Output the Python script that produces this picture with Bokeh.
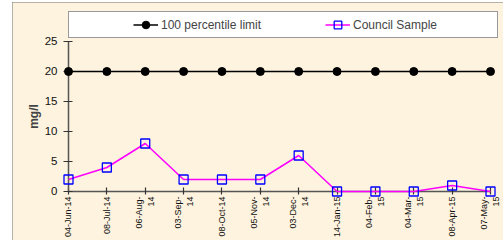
import math
from bokeh.plotting import figure
from bokeh.models import Range1d, FixedTicker, LinearAxis, Legend, LegendItem, Spacer
from bokeh.layouts import row, column
from bokeh.embed import file_html
from bokeh.resources import INLINE

dates = ["04-Jun-14", "08-Jul-14", "06-Aug-\n14", "03-Sep-\n14", "08-Oct-14",
         "05-Nov-\n14", "03-Dec-\n14", "14-Jan-15", "04-Feb-\n15", "04-Mar-\n15",
         "08-Apr-15", "07-May-\n15"]
limit = [20, 20, 20, 20, 20, 20, 20, 20, 20, 20, 20, 20]
council = [2, 4, 8, 2, 2, 2, 6, 0, 0, 0, 1, 0]
y_ticks = [0, 5, 10, 15, 20, 25]

xs = list(range(len(dates)))
BG = "#FDF3DE"

p = figure(width=491, height=238, output_backend="svg", toolbar_location=None,
           x_range=Range1d(-1.4597, 11.3389), y_range=Range1d(-8.1667, 31.5),
           x_axis_type=None, y_axis_type=None,
           min_border_left=0, min_border_right=0, min_border_top=0, min_border_bottom=0,
           styles={"outline": "2px solid #707070", "outline-offset": "-2px"})
p.background_fill_color = BG
p.border_fill_color = BG
p.outline_line_color = None
p.xgrid.visible = False
p.ygrid.visible = False

xaxis = LinearAxis(fixed_location=0, bounds=(0, len(dates) - 1),
                   ticker=FixedTicker(ticks=xs),
                   major_label_overrides={i: d for i, d in enumerate(dates)},
                   major_label_orientation=math.pi / 2,
                   major_label_text_font="Liberation Sans",
                   major_label_text_font_size="9px",
                   major_label_text_color="#111111",
                   major_label_standoff=2,
                   major_tick_in=4, major_tick_out=3,
                   minor_tick_line_color=None,
                   axis_line_color="#555555", axis_line_width=1.5,
                   major_tick_line_color="#333333", major_tick_line_width=1.2,
                   level="underlay")
p.add_layout(xaxis, "below")

yaxis = LinearAxis(fixed_location=0, bounds=(0, 25),
                   ticker=FixedTicker(ticks=y_ticks),
                   major_label_text_font="Liberation Sans",
                   major_label_text_font_size="11.5px",
                   major_label_text_color="#111111",
                   major_label_standoff=6,
                   major_tick_in=4, major_tick_out=5,
                   minor_tick_line_color=None,
                   axis_line_color="#555555", axis_line_width=1.5,
                   major_tick_line_color="#333333", major_tick_line_width=1.2,
                   axis_label="mg/l", axis_label_text_font="Liberation Sans",
                   axis_label_text_font_style="bold", axis_label_text_font_size="12px",
                   axis_label_standoff=1, level="underlay")
p.add_layout(yaxis, "left")

l1 = p.line(xs, limit, line_color="black", line_width=1.5)
m1 = p.scatter(xs, limit, marker="circle", size=8, fill_color="black", line_color="black")
l2 = p.line(xs, council, line_color="#FF00FF", line_width=1.5)
m2 = p.scatter(xs, council, marker="square", size=9, fill_alpha=0,
               line_color="#0000FF", line_width=1.3)

legend = Legend(items=[LegendItem(label="100 percentile limit", renderers=[l1, m1]),
                       LegendItem(label="Council Sample", renderers=[l2, m2])],
                orientation="horizontal", location=(56, 202),
                title=" ", title_location="left", title_standoff=47,
                title_text_font_size="12px",
                padding=3, spacing=23, glyph_width=25, glyph_height=19,
                label_height=19, label_width=141, label_standoff=3,
                label_text_font="Liberation Sans", label_text_font_size="12px",
                border_line_color="#333333", border_line_width=1.5,
                background_fill_color="white", background_fill_alpha=1.0)
p.add_layout(legend, "center")

layout = column(Spacer(height=2, width=503), row(Spacer(width=12, height=238), p))

open("out.html", "w").write(file_html(layout, INLINE))
